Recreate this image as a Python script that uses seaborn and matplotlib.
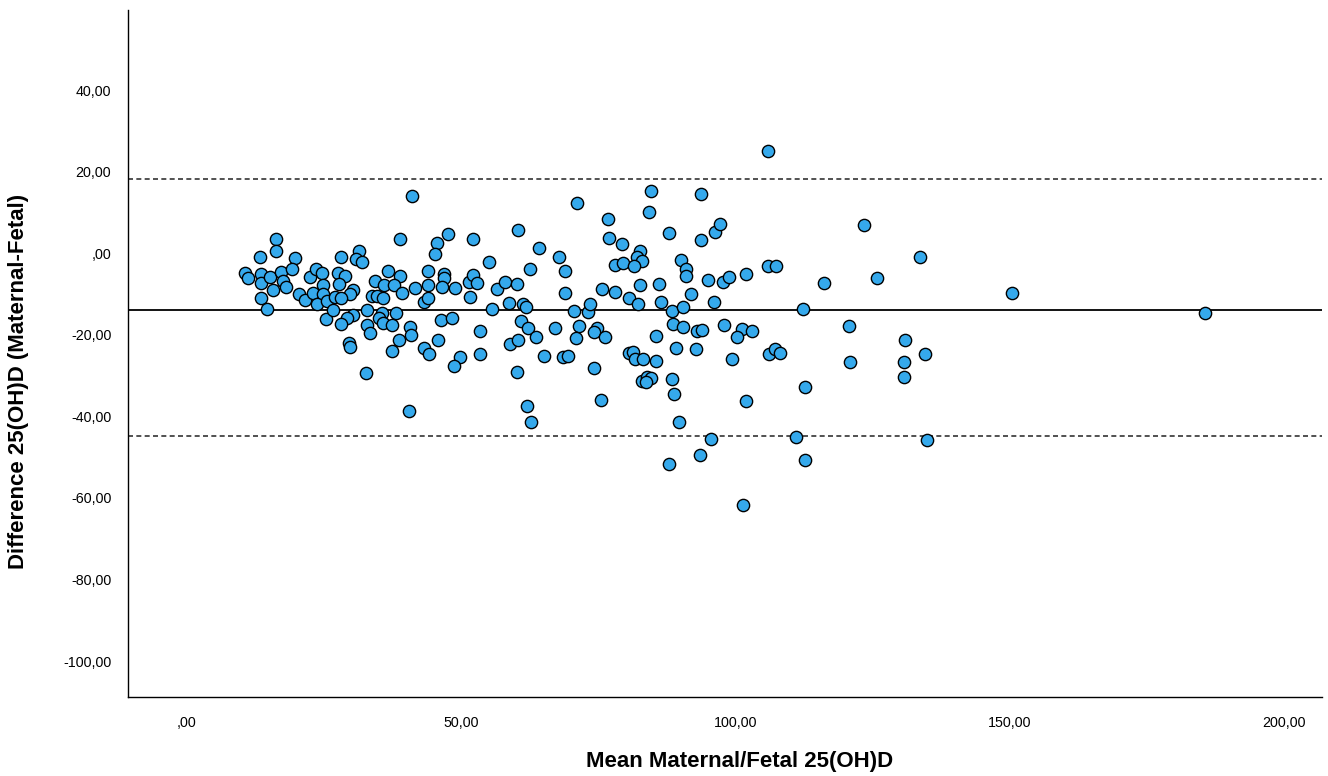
import numpy as np
import pandas as pd
import matplotlib
matplotlib.use("Agg")
import matplotlib.pyplot as plt
import seaborn as sns

# Bland-Altman data (mean of maternal/fetal, difference)
mean_vals = [
    16.4, 16.4, 13.5, 19.9, 10.7, 11.2, 13.7, 13.6, 15.3, 17.3,
    19.3, 17.6, 18.1, 15.9, 13.6, 14.8, 20.6, 21.7, 22.6, 23.7,
    24.7, 24.9, 23.1, 25.0, 23.8, 25.5, 25.6, 26.7, 28.2, 31.4,
    31.0, 32.1, 27.7, 29.0, 27.9, 30.3, 29.9, 27.1, 28.2, 30.4,
    29.3, 28.2, 33.0, 32.9, 33.8, 34.7, 34.4, 36.1, 36.7, 39.0,
    37.9, 39.3, 35.9, 35.6, 35.2, 35.9, 37.5, 38.3, 38.9, 41.1,
    40.7, 41.6, 44.1, 44.0, 43.4, 44.1, 45.7, 45.4, 47.7, 46.9,
    47.0, 46.6, 49.0, 46.4, 48.4, 52.2, 51.6, 52.2, 53.0, 51.7,
    29.6, 29.9, 33.5, 32.7, 38.7, 37.5, 41.0, 40.5, 43.4, 44.3,
    45.8, 49.9, 48.8, 53.6, 53.6, 55.2, 56.7, 58.1, 60.3, 58.8,
    55.7, 61.4, 61.9, 60.5, 64.3, 62.7, 61.0, 62.2, 67.9, 69.0,
    69.0, 67.2, 71.2, 70.7, 73.1, 73.6, 71.6, 74.9, 76.9, 77.1,
    79.4, 78.1, 79.5, 75.8, 78.1, 80.7, 58.9, 60.4, 63.8, 60.2,
    65.2, 68.7, 69.6, 71.0, 74.3, 76.3, 74.2, 62.1, 62.8, 75.6,
    80.7, 106.0, 84.7, 93.8, 84.3, 88.0, 93.8, 96.4, 97.3, 82.6,
    82.1, 83.0, 81.6, 90.1, 91.1, 91.1, 95.0, 97.8, 98.8, 101.9,
    106.0, 107.5, 82.7, 86.2, 82.3, 86.5, 92.0, 88.5, 90.5, 96.2,
    88.7, 90.5, 93.1, 93.9, 97.9, 101.2, 103.0, 85.6, 100.4, 81.4,
    81.8, 83.2, 85.6, 89.3, 92.9, 99.4, 106.1, 107.3, 108.1, 83.0,
    83.9, 84.6, 83.8, 88.5, 88.8, 89.7, 101.9, 95.6, 93.6, 88.0,
    101.4, 123.5, 133.7, 125.8, 116.1, 112.3, 120.8, 120.9, 131.0, 134.6,
    130.7, 130.7, 112.8, 111.1, 112.8, 150.4, 185.6, 134.9,
]
diff_vals = [
    3.6, 0.6, -0.9, -1.1, -4.9, -6.0, -5.2, -7.2, -5.8, -4.5,
    -3.9, -6.7, -8.2, -8.9, -11.1, -13.7, -10.1, -11.5, -5.8, -3.9,
    -4.9, -7.8, -9.7, -10.0, -12.5, -16.2, -11.7, -13.9, -0.9, 0.6,
    -1.5, -2.1, -4.9, -5.6, -7.6, -8.9, -10.1, -10.7, -11.1, -15.2,
    -16.0, -17.4, -13.9, -17.7, -10.5, -10.4, -6.7, -7.8, -4.4, -5.5,
    -7.8, -9.7, -11.1, -14.6, -16.0, -17.0, -17.5, -14.6, 3.5, 14.1,
    -18.0, -8.5, -4.4, -7.8, -11.9, -11.1, 2.4, -0.2, 4.6, -5.1,
    -6.2, -8.2, -8.6, -16.3, -16.0, 3.4, -7.0, -5.3, -7.4, -10.7,
    -22.1, -22.9, -19.6, -29.4, -21.3, -24.0, -20.1, -38.6, -23.3, -24.7,
    -21.3, -25.4, -27.6, -19.0, -24.8, -2.1, -8.8, -7.0, -7.6, -12.1,
    -13.8, -12.5, -13.1, 5.7, 1.3, -3.9, -16.5, -18.4, -0.9, -4.3,
    -9.7, -18.3, 12.4, -14.2, -14.3, -12.5, -17.8, -18.3, 8.3, 3.7,
    2.2, -2.9, -2.5, -8.8, -9.6, -10.9, -22.3, -21.3, -20.6, -29.2,
    -25.2, -25.4, -25.2, -20.7, -19.2, -20.5, -28.1, -37.5, -41.5, -36.0,
    -24.5, 25.1, 15.2, 14.5, 10.0, 4.9, 3.2, 5.3, 7.2, 0.6,
    -0.9, -1.8, -3.1, -1.7, -3.9, -5.6, -6.6, -7.1, -5.8, -5.1,
    -3.1, -3.1, -7.8, -7.6, -12.5, -12.0, -10.1, -14.2, -13.1, -11.9,
    -17.4, -18.2, -19.1, -18.8, -17.7, -18.5, -19.0, -20.3, -20.6, -24.3,
    -26.0, -26.0, -26.4, -23.3, -23.6, -25.9, -24.8, -23.6, -24.5, -31.3,
    -30.4, -30.7, -31.6, -30.8, -34.6, -41.5, -36.2, -45.5, -49.5, -51.7,
    -61.7, 6.9, -0.9, -6.0, -7.2, -13.7, -17.8, -26.6, -21.3, -24.7,
    -26.6, -30.3, -32.7, -45.0, -50.7, -9.8, -14.7, -45.8,
]

# reference lines (mean difference and limits of agreement)
mean_diff = -13.9
upper_loa = 18.1
lower_loa = -44.7

x_ticks = [0, 50, 100, 150, 200]
y_ticks = [40, 20, 0, -20, -40, -60, -80, -100]

df = pd.DataFrame({"mean": mean_vals, "diff": diff_vals})

sns.set_style("white")
plt.rcParams['font.family'] = ['Liberation Sans', 'DejaVu Sans']


def comma_fmt(v):
    s = f"{v:.2f}".replace('.', ',')
    if s.startswith("0,"):
        s = s[1:]
    return s


fig = plt.figure(figsize=(13.28, 7.76), dpi=100)
ax = fig.add_axes([0.0964, 0.1018, 0.8991, 0.8852])

ax.axhline(upper_loa, color="#333333", lw=1.2, ls=(0, (3, 2)), zorder=1)
ax.axhline(lower_loa, color="#333333", lw=1.2, ls=(0, (3, 2)), zorder=1)
ax.axhline(mean_diff, color="black", lw=1.3, zorder=1)

sns.scatterplot(data=df, x="mean", y="diff", ax=ax, s=78,
                color="#35a9ec", edgecolor="black", linewidth=1.0, zorder=3)

ax.set_xlim(-10.6, 206.9)
ax.set_ylim(-108.8, 59.6)
ax.set_xticks(x_ticks)
ax.set_yticks(y_ticks)
ax.set_xticklabels([comma_fmt(v) for v in x_ticks])
ax.set_yticklabels([comma_fmt(v) for v in y_ticks])
ax.tick_params(axis='both', labelsize=10.3, length=0, pad=14, labelcolor="black")
ax.tick_params(axis='y', pad=12)

for side in ["top", "right"]:
    ax.spines[side].set_visible(False)
for side in ["left", "bottom"]:
    ax.spines[side].set_color("black")
    ax.spines[side].set_linewidth(1.0)

ax.set_xlabel("")
ax.set_ylabel("")
fig.text(740 / 1328, 1 - 762 / 776, "Mean Maternal/Fetal 25(OH)D",
         fontsize=16, fontweight="bold", ha="center", va="center", color="black")
fig.text(19 / 1328, 1 - 381 / 776, "Difference 25(OH)D (Maternal-Fetal)",
         fontsize=16, fontweight="bold", ha="center", va="center", rotation=90,
         color="black")

fig.savefig("out.png", dpi=100)
